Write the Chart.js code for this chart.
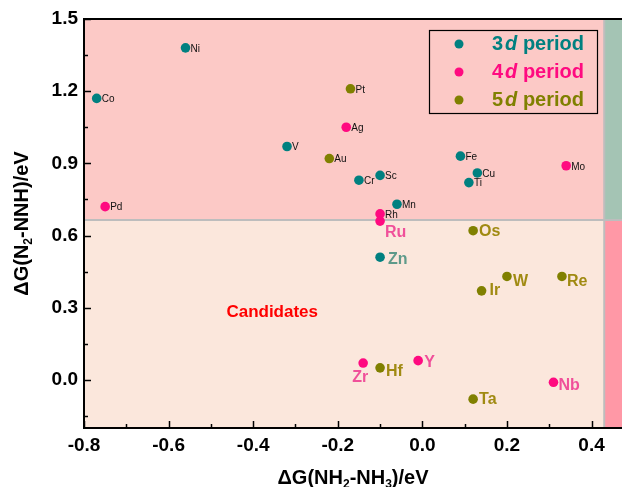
<!DOCTYPE html>
<html>
<head>
<meta charset="utf-8">
<script src="https://cdn.jsdelivr.net/npm/chart.js@4.4.1/dist/chart.umd.min.js"></script>
<style>
  html, body { margin: 0; padding: 0; background: #fff; }
</style>
</head>
<body>
<canvas id="chart" width="622" height="487"></canvas>
<script>
const family = '"Liberation Sans", Arial, sans-serif';

// series: transition metals by period
const periods = ['3d', '4d', '5d'];
const periodColors = ['#008080', '#ff0a80', '#808000'];

const names3d = ['Ni', 'Co', 'V', 'Fe', 'Cu', 'Ti', 'Sc', 'Cr', 'Mn', 'Zn'];
const x3d = [-0.56, -0.77, -0.32, 0.09, 0.13, 0.11, -0.10, -0.15, -0.06, -0.10];
const y3d = [1.38, 1.17, 0.97, 0.93, 0.86, 0.82, 0.85, 0.83, 0.73, 0.51];

const names4d = ['Pd', 'Ag', 'Mo', 'Rh', 'Ru', 'Zr', 'Y', 'Nb'];
const x4d = [-0.75, -0.18, 0.34, -0.10, -0.10, -0.14, -0.01, 0.31];
const y4d = [0.72, 1.05, 0.89, 0.69, 0.66, 0.07, 0.08, -0.01];

const names5d = ['Pt', 'Au', 'Os', 'W', 'Re', 'Ir', 'Hf', 'Ta'];
const x5d = [-0.17, -0.22, 0.12, 0.20, 0.33, 0.14, -0.10, 0.12];
const y5d = [1.21, 0.92, 0.62, 0.43, 0.43, 0.37, 0.05, -0.08];

// region boundaries
const xSplit = 0.43;
const ySplit = 0.665;

// axis ranges and ticks
const xMin = -0.8, xMax = 0.472, xStep = 0.2;
const yMin = -0.2, yMax = 1.5, yStep = 0.3;

// bold coloured labels for the candidate region; the rest use small black text
const pink = '#f0509a', gold = '#a08a12';
const bigLabels = {
  Ru: { dx: 5, dy: 11, color: pink },
  Os: { dx: 6, dy: 1, color: gold },
  Zn: { dx: 8, dy: 2, color: '#5e9a8a' },
  W: { dx: 6, dy: 5, color: gold },
  Re: { dx: 5, dy: 5, color: gold },
  Ir: { dx: 8, dy: 0, color: gold },
  Hf: { dx: 6, dy: 4, color: gold },
  Y: { dx: 6, dy: 2, color: pink },
  Zr: { dx: -3, dy: 15, color: pink, align: 'center' },
  Nb: { dx: 5, dy: 3, color: pink },
  Ta: { dx: 6, dy: 0, color: gold },
};

const allNames = [names3d, names4d, names5d];

function toPoints(xs, ys) {
  return xs.map((x, i) => ({ x, y: ys[i] }));
}

function line(ctx, x1, y1, x2, y2) {
  ctx.beginPath();
  ctx.moveTo(x1, y1);
  ctx.lineTo(x2, y2);
  ctx.stroke();
}

function richText(ctx, parts, size, cx, cy) {
  const widths = parts.map(([t, sub]) => {
    ctx.font = `bold ${sub ? Math.round(size * 0.62) : size}px ${family}`;
    return ctx.measureText(t).width;
  });
  let x = cx - widths.reduce((a, b) => a + b, 0) / 2;
  ctx.textAlign = 'left';
  ctx.textBaseline = 'middle';
  parts.forEach(([t, sub], i) => {
    ctx.font = `bold ${sub ? Math.round(size * 0.62) : size}px ${family}`;
    ctx.fillText(t, x, sub ? cy + size * 0.32 : cy);
    x += widths[i];
  });
}

const backdrop = {
  id: 'backdrop',
  beforeDraw(chart) {
    const { ctx, chartArea: a, scales: { x, y } } = chart;
    const sx = x.getPixelForValue(xSplit);
    const sy = y.getPixelForValue(ySplit);
    ctx.save();
    ctx.fillStyle = '#fcc9c6';
    ctx.fillRect(a.left, a.top, sx - a.left, sy - a.top);
    ctx.fillStyle = '#fbe7dc';
    ctx.fillRect(a.left, sy, sx - a.left, a.bottom - sy);
    ctx.fillStyle = '#a4c4b4';
    ctx.fillRect(sx, a.top, a.right - sx, sy - a.top);
    ctx.fillStyle = '#ff98a6';
    ctx.fillRect(sx, sy, a.right - sx, a.bottom - sy);
    ctx.strokeStyle = '#bdbdbd';
    ctx.lineWidth = 2;
    line(ctx, a.left, sy, a.right, sy);
    line(ctx, sx, a.top, sx, a.bottom);
    ctx.restore();
  },
  beforeDatasetsDraw(chart) {
    const { ctx, chartArea: a, scales: { x, y } } = chart;
    ctx.save();
    ctx.strokeStyle = '#000';
    ctx.lineWidth = 2;
    line(ctx, a.left - 1, a.top, a.right, a.top);
    ctx.lineWidth = 1.5;
    // inward ticks, major and minor
    for (let v = xMin; v <= xMax + 1e-9; v += xStep / 2) {
      const px = Math.round(x.getPixelForValue(v)) + 0.5;
      const major = Math.abs(Math.round(v * 10) % 2) === 0;
      line(ctx, px, a.bottom, px, a.bottom - (major ? 7 : 4));
    }
    for (let v = 0 - yStep / 2; v <= yMax + 1e-9; v += yStep / 2) {
      const py = Math.round(y.getPixelForValue(v)) + 0.5;
      const major = Math.abs(Math.round(v / 0.15)) % 2 === 0;
      line(ctx, a.left, py, a.left + (major ? 7 : 4), py);
    }
    ctx.restore();
  },
  afterDatasetsDraw(chart) {
    const { ctx, chartArea: a, scales: { x, y } } = chart;
    ctx.save();

    // point labels
    chart.data.datasets.forEach((ds, di) => {
      const meta = chart.getDatasetMeta(di);
      meta.data.forEach((el, i) => {
        const name = allNames[di][i];
        const big = bigLabels[name];
        ctx.textBaseline = 'middle';
        if (big) {
          ctx.font = `bold 16px ${family}`;
          ctx.fillStyle = big.color;
          ctx.textAlign = big.align || 'left';
          ctx.fillText(name, el.x + big.dx, el.y + big.dy);
        } else {
          ctx.font = `10px ${family}`;
          ctx.fillStyle = '#111';
          ctx.textAlign = 'left';
          ctx.fillText(name, el.x + 5, el.y + 1);
        }
      });
    });

    // region annotation
    ctx.font = `bold 17px ${family}`;
    ctx.fillStyle = '#ff0000';
    ctx.textAlign = 'center';
    ctx.textBaseline = 'middle';
    ctx.fillText('Candidates', x.getPixelForValue(-0.355), y.getPixelForValue(0.28));

    // legend
    const bw = 168, bh = 83;
    const bx = a.right - 25 - bw, by = a.top + 11;
    ctx.strokeStyle = '#000';
    ctx.lineWidth = 1.2;
    ctx.strokeRect(bx + 0.5, by + 0.5, bw, bh);
    periods.forEach((p, i) => {
      const cy = by + 14 + i * 28;
      ctx.fillStyle = periodColors[i];
      ctx.beginPath();
      ctx.arc(bx + 30, cy, 4.5, 0, Math.PI * 2);
      ctx.fill();
      let tx = bx + 63;
      ctx.textAlign = 'left';
      ctx.font = `bold 20px ${family}`;
      ctx.fillText(p[0], tx, cy);
      tx += ctx.measureText(p[0]).width + 2;
      ctx.font = `italic bold 20px ${family}`;
      ctx.fillText('d', tx, cy);
      tx += ctx.measureText('d').width;
      ctx.font = `bold 20px ${family}`;
      ctx.fillText(' period', tx, cy);
    });

    // axis titles with subscripts
    ctx.fillStyle = '#000';
    richText(ctx, [['\u0394G(NH', false], ['2', true], ['-NH', false], ['3', true], [')/eV', false]],
      20, (a.left + a.right) / 2, 478);
    ctx.translate(22, (a.top + a.bottom) / 2);
    ctx.rotate(-Math.PI / 2);
    richText(ctx, [['\u0394G(N', false], ['2', true], ['-NNH)/eV', false]], 20, 0, 0);
    ctx.restore();
  }
};

const tickFont = { family, size: 19, weight: 'bold' };

new Chart(document.getElementById('chart'), {
  type: 'scatter',
  data: {
    datasets: [
      { label: '3d period', data: toPoints(x3d, y3d), backgroundColor: periodColors[0] },
      { label: '4d period', data: toPoints(x4d, y4d), backgroundColor: periodColors[1] },
      { label: '5d period', data: toPoints(x5d, y5d), backgroundColor: periodColors[2] },
    ].map((d) => ({ ...d, pointRadius: 4.8, pointBorderWidth: 0, borderWidth: 0 })),
  },
  options: {
    responsive: false,
    animation: false,
    layout: { autoPadding: false, padding: { top: 19, right: 0, left: 0, bottom: 0 } },
    plugins: { legend: { display: false }, tooltip: { enabled: false } },
    scales: {
      x: {
        min: xMin,
        max: xMax,
        afterFit: (scale) => { scale.height = 59; },
        grid: { display: false, drawTicks: false },
        border: { display: true, color: '#000', width: 2 },
        ticks: {
          stepSize: xStep,
          includeBounds: false,
          padding: 6,
          color: '#000',
          font: tickFont,
          callback: (v) => v.toFixed(1),
        },
      },
      y: {
        min: yMin,
        max: yMax,
        afterFit: (scale) => { scale.width = 84; },
        grid: { display: false, drawTicks: false },
        border: { display: true, color: '#000', width: 2 },
        ticks: {
          stepSize: yStep,
          includeBounds: false,
          padding: 6,
          color: '#000',
          font: tickFont,
          callback: (v) => v.toFixed(1),
        },
      },
    },
  },
  plugins: [backdrop],
});
</script>
</body>
</html>
